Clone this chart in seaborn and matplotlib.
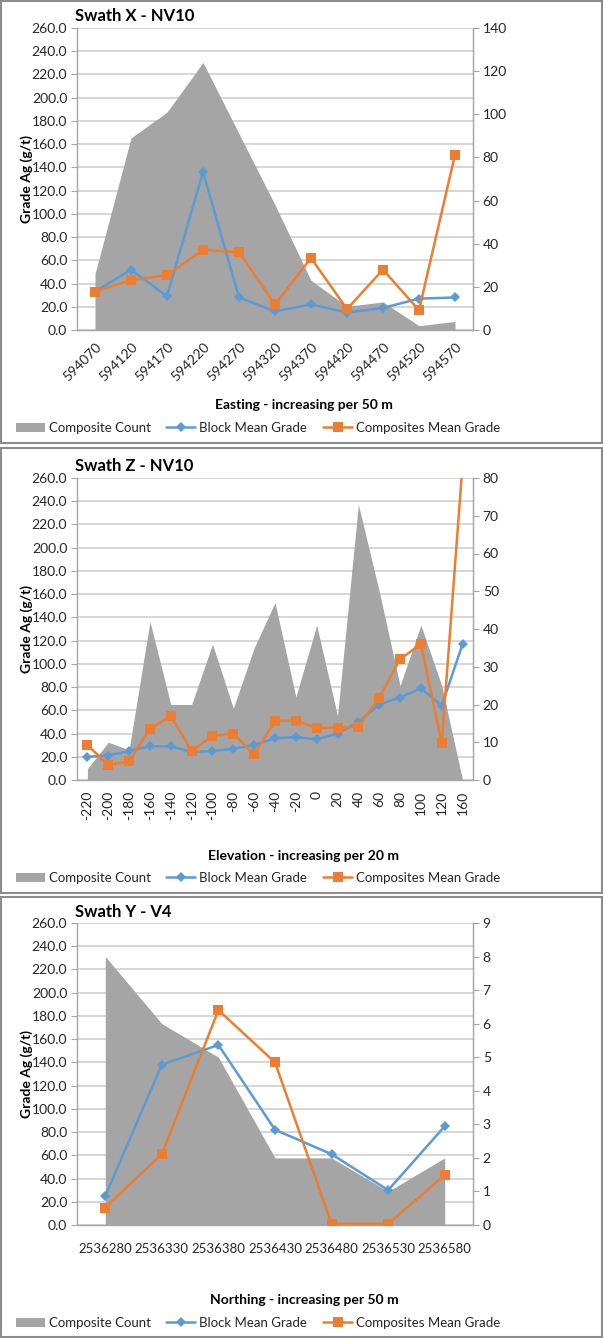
import matplotlib
matplotlib.use('Agg')
import matplotlib.pyplot as plt
from matplotlib.patches import Rectangle, Patch
from matplotlib.lines import Line2D
import numpy as np
import pandas as pd
import seaborn as sns

sns.set_style('white')
plt.rcParams['font.family'] = ['Lato', 'DejaVu Sans']

# Swath X - NV10
x_labels = ['594070', '594120', '594170', '594220', '594270', '594320',
            '594370', '594420', '594470', '594520', '594570']
x_count = [26, 89, 101, 124, 91, 58, 23, 11, 13, 2, 4]
x_block = [33, 52, 29, 136, 28, 16, 22, 15, 19, 27, 28]
x_comp = [33, 43, 47, 69, 67, 22, 62, 18, 52, 17, 151]

# Swath Z - NV10
z_labels = ['-220', '-200', '-180', '-160', '-140', '-120', '-100', '-80', '-60', '-40',
            '-20', '0', '20', '40', '60', '80', '100', '120', '160']
z_count = [3, 10, 8, 42, 20, 20, 36, 19, 35, 47, 22, 41, 17, 73, 50, 25, 41, 25, 0]
z_block = [20, 21, 25, 29, 29, 24, 25, 27, 30, 36, 37, 35, 40, 50, 65, 71, 79, 64, 117]
z_comp = [30, 13, 16, 44, 55, 25, 38, 40, 22, 51, 51, 45, 45, 46, 71, 104, 117, 32, 272]

# Swath Y - V4
y_labels = ['2536280', '2536330', '2536380', '2536430', '2536480', '2536530', '2536580']
y_count = [8, 6, 5, 2, 2, 1, 2]
y_block = [25, 138, 155, 82, 61, 30, 85]
y_comp = [15, 61, 185, 140, 1, 1, 43]

W, H = 604, 1339
AREA = '#A5A5A5'
BLUE = '#5B9BD5'
ORANGE = '#ED7D31'
GRID = '#CFCFCF'
AXC = '#A6A6A6'
TXT = '#262626'


def rect(x0, y0, x1, y1):
    # pixel box (top-left origin) -> figure fraction
    return [x0 / W, 1 - y1 / H, (x1 - x0) / W, (y1 - y0) / H]


def swath(fig, spec, labels, count, block, comp):
    bx = spec['box']
    fig.patches.append(Rectangle((bx[0] / W, 1 - bx[3] / H), (bx[2] - bx[0]) / W,
                                 (bx[3] - bx[1]) / H, transform=fig.transFigure,
                                 fill=False, edgecolor='#8C8C8C', linewidth=1.5))
    n = len(labels)
    pos = np.arange(n)
    df = pd.DataFrame({'pos': pos, 'block': block, 'comp': comp})

    ax = fig.add_axes(rect(*spec['ax']))
    ax.set_xlim(-0.5, n - 0.5)
    ax.set_ylim(0, 260)
    ax.set_yticks(np.arange(0, 261, 20))
    ax.set_yticklabels([f'{v:.1f}' for v in np.arange(0, 261, 20)])
    ax.yaxis.grid(True, color=GRID, linewidth=1.2)
    ax.set_axisbelow(True)
    ax.set_xticks(pos)
    ax.set_xticks(np.arange(-0.5, n, 1), minor=True)
    rot = spec['rot']
    if rot == 45:
        ax.set_xticklabels(labels, rotation=45, ha='right', rotation_mode='anchor')
    elif rot == 90:
        ax.set_xticklabels(labels, rotation=90, ha='center', va='top')
    else:
        ax.set_xticklabels(labels)
    ax.tick_params(axis='x', which='major', length=0, pad=spec['xpad'],
                   labelsize=spec['xsize'], labelcolor=TXT)
    ax.tick_params(axis='x', which='minor', length=4, color=AXC, width=1)
    ax.tick_params(axis='y', length=4, color=AXC, labelsize=10, labelcolor=TXT, pad=3, left=True)
    ax.spines['top'].set_visible(False)
    for s in ['left', 'bottom', 'right']:
        ax.spines[s].set_color(AXC)
        ax.spines[s].set_linewidth(1)

    ax2 = ax.twinx()
    ax2.fill_between(pos, count, color=AREA, linewidth=0)
    ax2.set_ylim(0, spec['rmax'])
    ax2.set_yticks(np.arange(0, spec['rmax'] + 0.1, spec['rstep']))
    ax2.tick_params(axis='y', length=4, color=AXC, labelsize=10, labelcolor=TXT, pad=3, right=True)
    for s in ['top', 'left', 'bottom']:
        ax2.spines[s].set_visible(False)
    ax2.spines['right'].set_color(AXC)

    ax3 = fig.add_axes(rect(*spec['ax']), sharex=ax, sharey=ax)
    ax3.patch.set_visible(False)
    sns.lineplot(data=df, x='pos', y='block', ax=ax3, color=BLUE, marker='D',
                 markersize=5, markeredgewidth=0, linewidth=1.8)
    sns.lineplot(data=df, x='pos', y='comp', ax=ax3, color=ORANGE, marker='s',
                 markersize=6.5, markeredgewidth=0, linewidth=1.8)
    ax3.axis('off')

    fig.text(75 / W, 1 - spec['ty'] / H, spec['title'], fontsize=12,
             fontweight='bold', color='black', ha='left', va='center')
    fig.text(27 / W, 1 - (spec['ax'][1] + spec['ax'][3]) / 2 / H, 'Grade Ag (g/t)',
             fontsize=10, fontweight='bold', rotation=90, ha='center', va='center', color='black')
    fig.text(304 / W, 1 - spec['xly'] / H, spec['xlabel'], fontsize=10,
             fontweight='bold', ha='center', va='center', color='black')

    handles = [Patch(facecolor=AREA, edgecolor='none'),
               Line2D([], [], color=BLUE, marker='D', markersize=5, markeredgewidth=0, linewidth=1.8),
               Line2D([], [], color=ORANGE, marker='s', markersize=6.5, markeredgewidth=0, linewidth=1.8)]
    fig.legend(handles, ['Composite Count', 'Block Mean Grade', 'Composites Mean Grade'],
               loc='center', bbox_to_anchor=(258 / W, 1 - spec['ly'] / H), ncol=3,
               frameon=False, fontsize=9.5, handlelength=2.2, handleheight=0.75,
               handletextpad=0.3, columnspacing=1.2, labelcolor=TXT)


fig = plt.figure(figsize=(W / 100, H / 100), dpi=100)

swath(fig, dict(box=(1, 1, 602, 443), ax=(77, 28, 473, 330), ty=16, xly=405, ly=428,
                rot=45, xpad=8, xsize=10, rmax=140, rstep=20,
                title='Swath X - NV10', xlabel='Easting - increasing per 50 m'),
      x_labels, x_count, x_block, x_comp)

swath(fig, dict(box=(1, 448, 602, 893), ax=(77, 478, 473, 780), ty=466, xly=856, ly=878,
                rot=90, xpad=8, xsize=10, rmax=80, rstep=10,
                title='Swath Z - NV10', xlabel='Elevation - increasing per 20 m'),
      z_labels, z_count, z_block, z_comp)

swath(fig, dict(box=(1, 897, 602, 1337), ax=(77, 923, 473, 1225), ty=912, xly=1300, ly=1323,
                rot=0, xpad=13, xsize=9.5, rmax=9, rstep=1,
                title='Swath Y - V4', xlabel='Northing - increasing per 50 m'),
      y_labels, y_count, y_block, y_comp)

fig.savefig('out.png', dpi=100)
